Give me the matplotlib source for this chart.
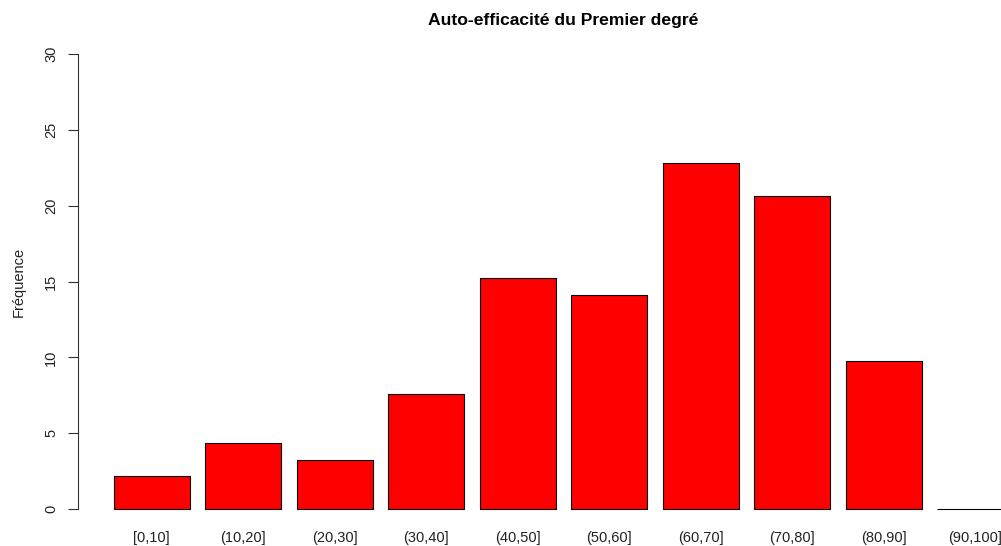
import matplotlib.pyplot as plt

plt.rcParams['font.family'] = ['Liberation Sans', 'DejaVu Sans']

# classes de score et fréquences (%)
categories = ["[0,10]", "(10,20]", "(20,30]", "(30,40]", "(40,50]",
              "(50,60]", "(60,70]", "(70,80]", "(80,90]", "(90,100]"]
frequences = [2.17, 4.35, 3.26, 7.61, 15.22, 14.13, 22.83, 20.65, 9.78, 0.0]
yticks = [0, 5, 10, 15, 20, 25, 30]

W, H = 1001, 546
fig = plt.figure(figsize=(W / 100, H / 100), dpi=100)

# zone de tracé façon barplot R (space=0.2, width=1, marge 4 %)
ax = fig.add_axes([77.7 / W, 18.8 / H, 971.5 / W, 491.1 / H])
pos = [0.7 + 1.2 * i for i in range(len(categories))]
ax.bar(pos, frequences, width=1.0, color='#FF0000', edgecolor='black',
       linewidth=0.8, clip_on=False)
ax.set_xlim(-0.272, 12.472)
ax.set_ylim(-1.2, 31.2)

for s in ['top', 'right', 'bottom']:
    ax.spines[s].set_visible(False)
ax.spines['left'].set_bounds(0, 30)
ax.spines['left'].set_linewidth(0.8)
ax.spines['left'].set_color('#333333')

ax.set_yticks(yticks)
ax.set_yticklabels([str(v) for v in yticks], rotation=90, va='center')
ax.tick_params(axis='y', length=7.2, width=0.8, color='#333333', pad=6.8,
               labelsize=10.5, labelcolor='#222222')
ax.set_xticks(pos)
ax.set_xticklabels(categories)
ax.tick_params(axis='x', length=0, pad=3, labelsize=10.5, labelcolor='#222222')

fig.text(562.7 / W, 1 - 24.5 / H, "Auto-efficacité du Premier degré",
         ha='center', va='baseline', fontweight='bold', fontsize=12.6)
fig.text(19 / W, 1 - 282 / H, "Fréquence", rotation=90,
         ha='center', va='center', fontsize=10.5, color='#222222')

fig.savefig('out.png', dpi=100)
